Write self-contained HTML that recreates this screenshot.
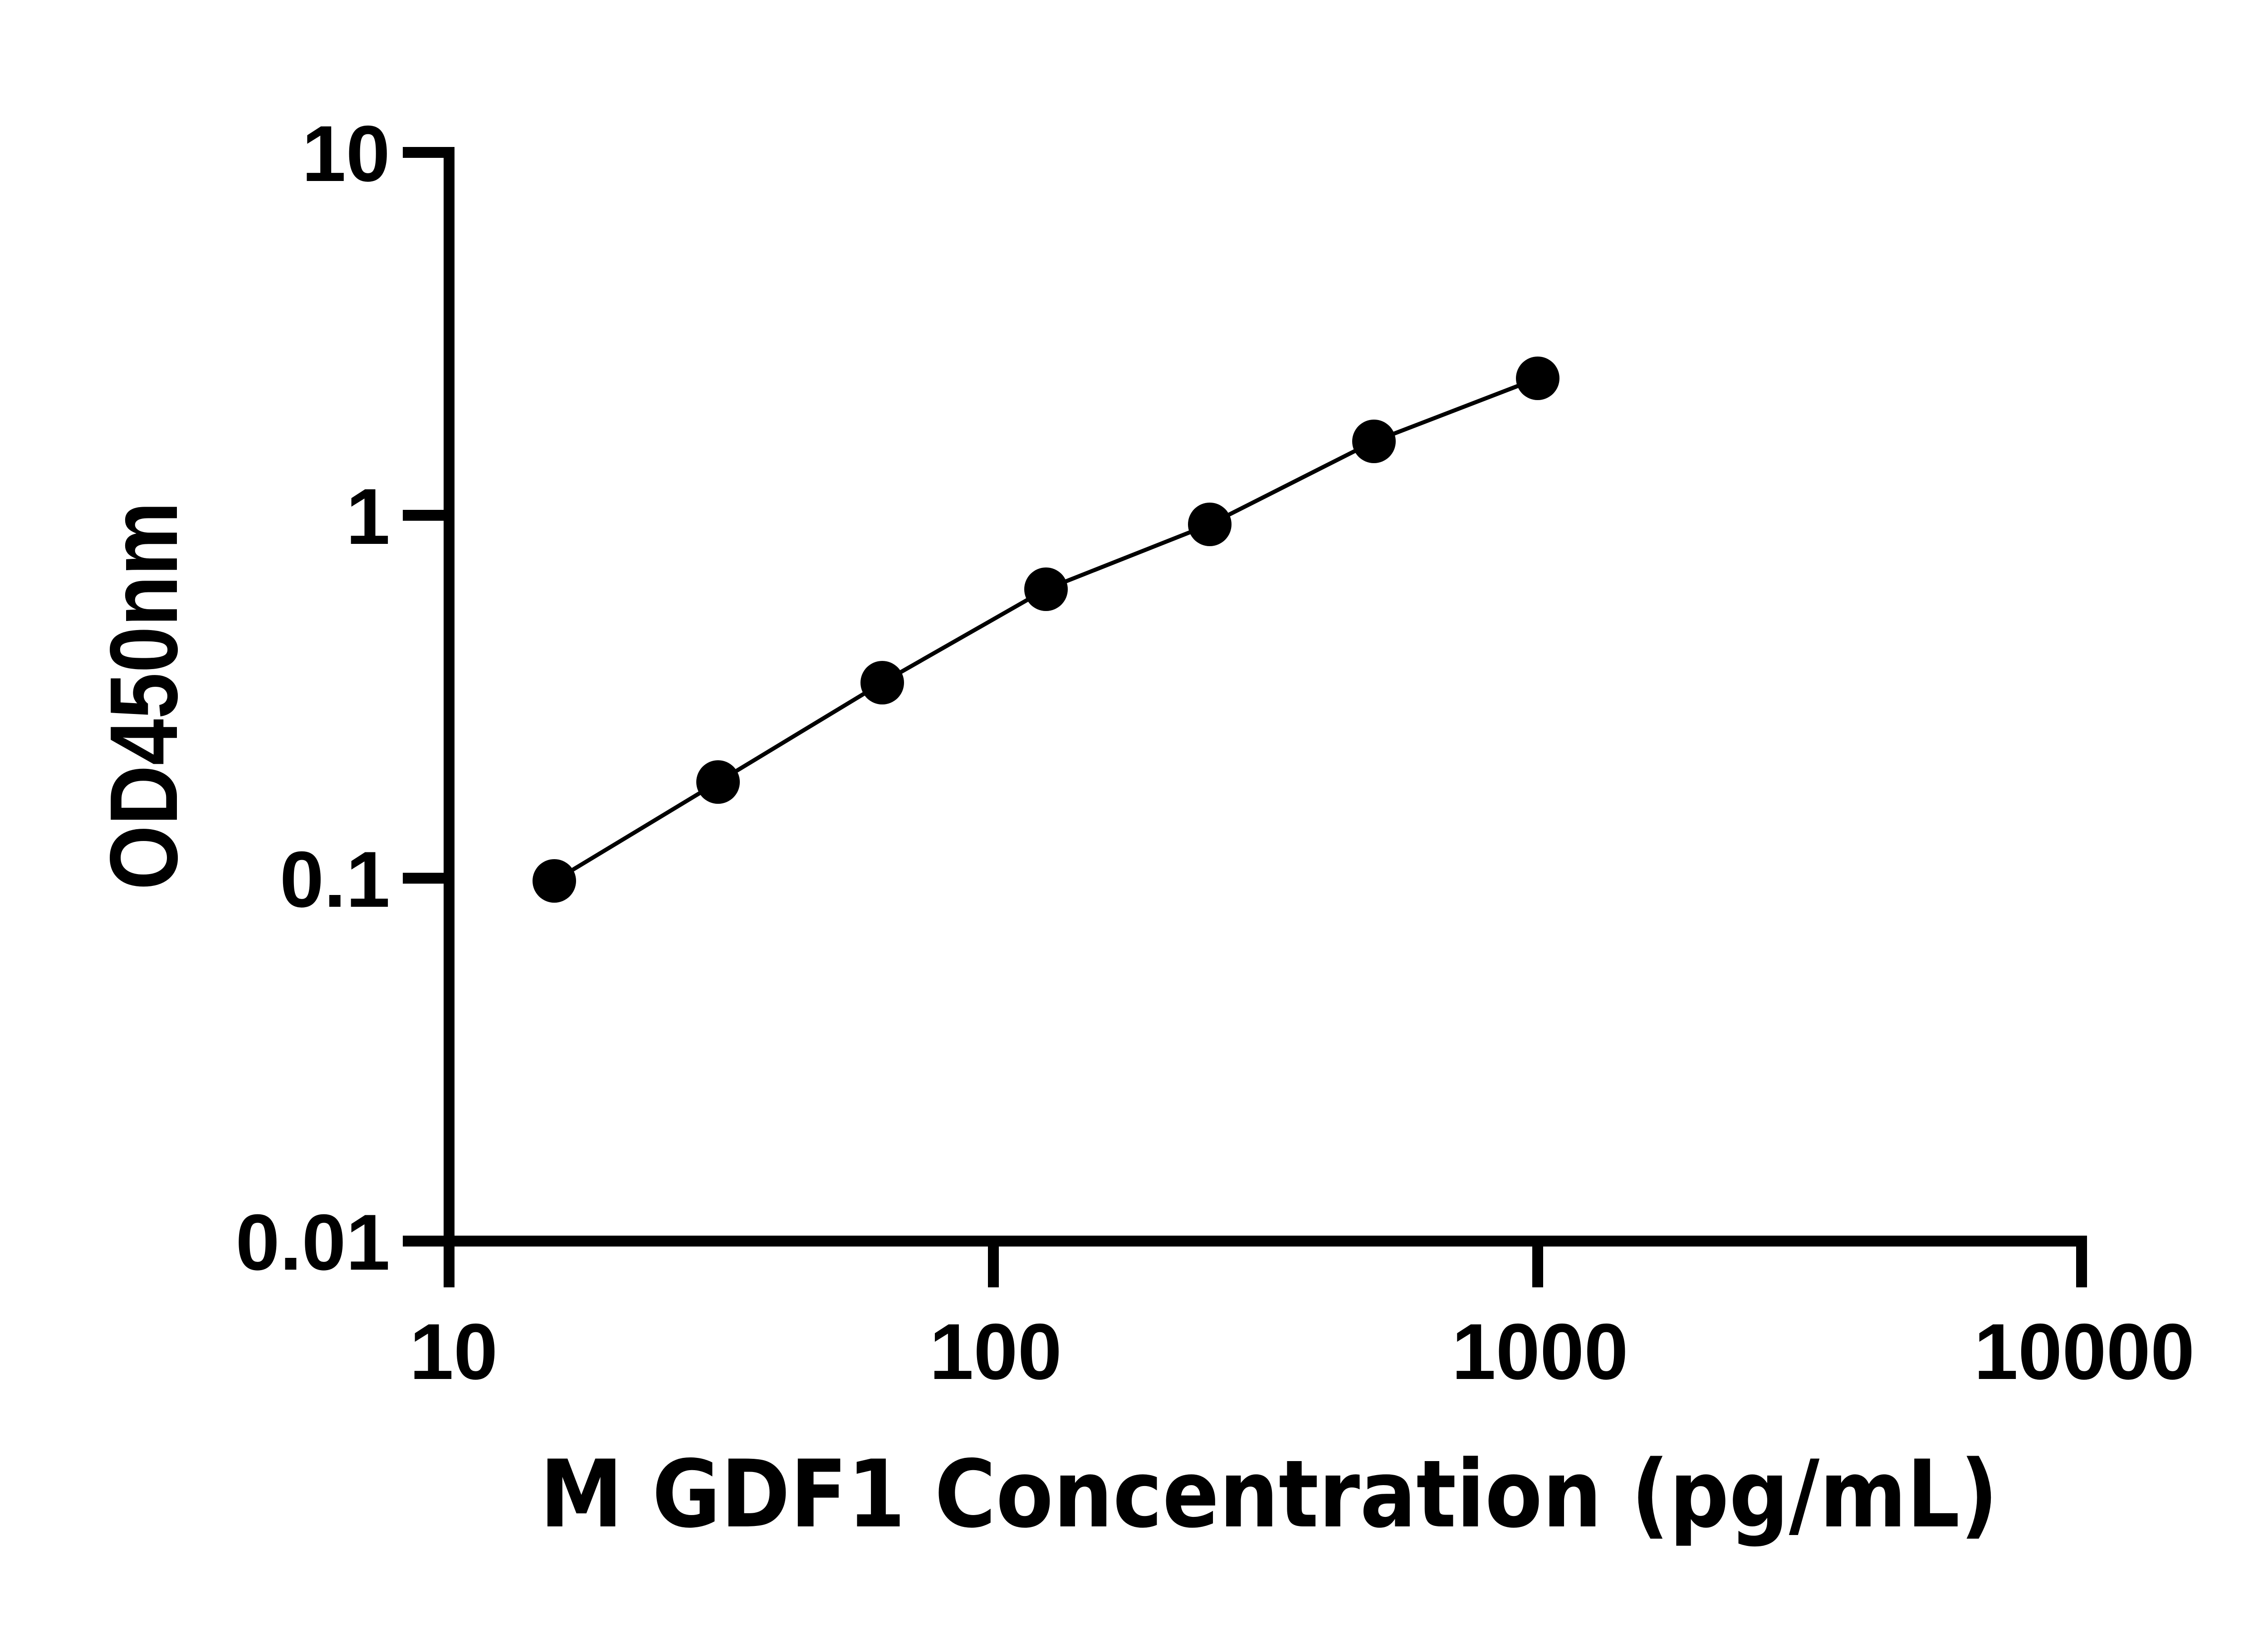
<!DOCTYPE html>
<html><head><meta charset="utf-8"><style>html,body{margin:0;padding:0;background:#fff}svg{display:block}</style></head>
<body>
<svg width="5142" height="3600" viewBox="0 0 5142 3600" xmlns="http://www.w3.org/2000/svg">
<rect width="5142" height="3600" fill="#fff"/>
<g stroke="#000" stroke-width="24" fill="none" stroke-linecap="butt">
  <line x1="990" y1="324" x2="990" y2="2748"/>
  <line x1="978" y1="2736" x2="4601" y2="2736"/>
  <line x1="888" y1="336" x2="1002" y2="336"/>
  <line x1="888" y1="1136" x2="990" y2="1136"/>
  <line x1="888" y1="1936" x2="990" y2="1936"/>
  <line x1="888" y1="2736" x2="990" y2="2736"/>
  <line x1="990" y1="2736" x2="990" y2="2838"/>
  <line x1="2190" y1="2736" x2="2190" y2="2838"/>
  <line x1="3390" y1="2736" x2="3390" y2="2838"/>
  <line x1="4589" y1="2724" x2="4589" y2="2838"/>
</g>
<g font-family="Liberation Sans, Arial, sans-serif" font-weight="bold" font-size="175" fill="#000">
  <text x="860" y="399" text-anchor="end">10</text>
  <text x="860" y="1199" text-anchor="end">1</text>
  <text x="860" y="1999" text-anchor="end">0.1</text>
  <text x="860" y="2799" text-anchor="end">0.01</text>
  <text x="1000" y="3040" text-anchor="middle">10</text>
  <text x="2195" y="3040" text-anchor="middle">100</text>
  <text x="3395" y="3040" text-anchor="middle">1000</text>
  <text x="4595" y="3040" text-anchor="middle">10000</text>
  <text x="0" y="0" font-size="212" transform="translate(390,1962) rotate(-90)" textLength="856" lengthAdjust="spacingAndGlyphs">OD450nm</text>
</g>
<text x="1190" y="3365" font-family="DejaVu Sans, Liberation Sans, sans-serif" font-weight="bold" font-size="205" textLength="3215" lengthAdjust="spacingAndGlyphs">M GDF1 Concentration (pg/mL)</text>
<polyline fill="none" stroke="#000" stroke-width="9" points="1222,1942 1583,1724 1945,1505 2306,1299 2667,1156 3029,973 3390,834"/>
<g fill="#000">
  <circle cx="1222" cy="1942" r="48"/>
  <circle cx="1583" cy="1724" r="48"/>
  <circle cx="1945" cy="1505" r="48"/>
  <circle cx="2306" cy="1299" r="48"/>
  <circle cx="2667" cy="1156" r="48"/>
  <circle cx="3029" cy="973" r="48"/>
  <circle cx="3390" cy="834" r="48"/>
</g>
</svg>
</body></html>
